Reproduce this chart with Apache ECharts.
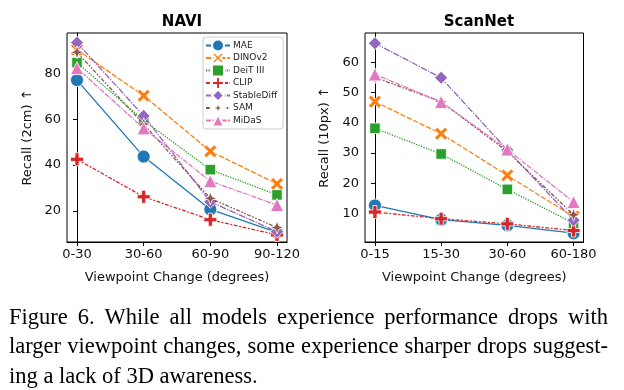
<!DOCTYPE html>
<html><head><meta charset="utf-8">
<script src="https://cdn.jsdelivr.net/npm/echarts@6/dist/echarts.min.js"></script>
<style>html,body{margin:0;padding:0;background:#fff}#c{width:624px;height:390px}</style>
</head><body><div id="c"></div>
<script>
// ---- data ----
const models = ['MAE', 'DINOv2', 'DeiT III', 'CLIP', 'StableDiff', 'SAM', 'MiDaS'];
const naviCats = ['0-30', '30-60', '60-90', '90-120'];
const scanCats = ['0-15', '15-30', '30-60', '60-180'];
const naviTicks = [20, 40, 60, 80];
const scanTicks = [10, 20, 30, 40, 50, 60];

const naviMAE        = [77.0, 43.7, 20.7, 10.7];
const naviDINOv2     = [90.2, 70.2, 46.0, 31.8];
const naviDeiT       = [84.6, 59.5, 38.0, 27.0];
const naviCLIP       = [42.5, 26.2, 16.2, 9.6];
const naviStableDiff = [93.3, 61.4, 24.0, 11.0];
const naviSAM        = [89.1, 57.8, 25.5, 12.8];
const naviMiDaS      = [82.2, 56.0, 33.0, 22.6];

const scanMAE        = [12.7, 8.0, 6.1, 3.5];
const scanDINOv2     = [47.0, 36.4, 22.6, 9.0];
const scanDeiT       = [38.2, 29.7, 18.0, 6.8];
const scanCLIP       = [10.5, 8.3, 6.6, 4.4];
const scanStableDiff = [66.3, 54.9, 31.0, 7.8];
const scanSAM        = [55.0, 47.0, 30.5, 9.6];
const scanMiDaS      = [56.0, 46.9, 31.2, 13.8];

const captionLines = [
  'Figure 6.  While all models experience performance drops with',
  'larger viewpoint changes, some experience sharper drops suggest-',
  'ing a lack of 3D awareness.'
];

// ---- styles ----
const colors = ['#1f77b4', '#ff7f0e', '#2ca02c', '#d62728', '#9467bd', '#8c564b', '#e377c2'];
const dashes = ['solid', [5.2, 1.9], [1.3, 1.3], [3.9, 1.6, 1.9, 1.6], [6.5, 1.3, 1.3, 1.3], [3.9, 1.6, 1.6, 1.6, 1.6, 1.6], [5.2, 1.3, 5.2, 1.3, 1.3, 1.3]];
const symbols = [
  'circle',
  'path://M0.2,0 L0.5,0.3 L0.8,0 L1,0.2 L0.7,0.5 L1,0.8 L0.8,1 L0.5,0.7 L0.2,1 L0,0.8 L0.3,0.5 L0,0.2 Z',
  'rect',
  'path://M0.34,0 H0.66 V0.34 H1 V0.66 H0.66 V1 H0.34 V0.66 H0 V0.34 H0.34 Z',
  'diamond',
  'path://M0.5,0 L0.635,0.365 L1,0.5 L0.635,0.635 L0.5,1 L0.365,0.635 L0,0.5 L0.365,0.365 Z',
  'triangle'
];
const sizes = [13, 13, 10.5, 13, 13, 13, 13];

const naviData = [naviMAE, naviDINOv2, naviDeiT, naviCLIP, naviStableDiff, naviSAM, naviMiDaS];
const scanData = [scanMAE, scanDINOv2, scanDeiT, scanCLIP, scanStableDiff, scanSAM, scanMiDaS];

const tickFont = {fontFamily: 'DejaVu Sans', fontSize: 13, color: '#111'};

function xAxisFor(cats, gi) {
  return {
    type: 'value', gridIndex: gi, min: -0.15, max: 3.15,
    axisLine: {show: true, lineStyle: {color: '#000', width: 1}},
    axisTick: {show: true, length: 4, customValues: [0, 1, 2, 3], lineStyle: {color: '#000'}},
    axisLabel: Object.assign({customValues: [0, 1, 2, 3], margin: 6,
      formatter: v => cats[Math.round(v)]}, tickFont),
    splitLine: {show: false},
    name: 'Viewpoint Change (degrees)', nameLocation: 'middle', nameGap: 29,
    nameTextStyle: {fontFamily: 'DejaVu Sans', fontSize: 13, color: '#111'}
  };
}
function yAxisFor(ticks, mn, mx, name, gi, gap) {
  return {
    type: 'value', gridIndex: gi, min: mn, max: mx,
    axisLine: {show: true, lineStyle: {color: '#000', width: 1}},
    axisTick: {show: true, length: 4, customValues: ticks, lineStyle: {color: '#000'}},
    axisLabel: Object.assign({customValues: ticks, margin: 6}, tickFont),
    splitLine: {show: false},
    name: name, nameLocation: 'middle', nameGap: gap,
    nameTextStyle: {fontFamily: 'DejaVu Sans', fontSize: 13, color: '#111'}
  };
}

const series = [];
[naviData, scanData].forEach((data, gi) => {
  data.forEach((vals, i) => {
    series.push({
      type: 'line', name: models[i], xAxisIndex: gi, yAxisIndex: gi,
      data: vals.map((v, k) => [k, v]),
      symbol: symbols[i], symbolSize: sizes[i], showAllSymbol: true,
      lineStyle: {color: colors[i], width: 1.3, type: dashes[i]},
      itemStyle: {color: colors[i], borderColor: '#fff', borderWidth: 0.8},
      emphasis: {disabled: true}, animation: false, z: 2 + i
    });
  });
});

// caption, justified lines
const capFont = '22.5px "Liberation Serif"';
const mctx = document.createElement('canvas').getContext('2d');
mctx.font = capFont;
const capLeft = 9, capRight = 608, capY = [318, 347.5, 377];
const graphic = [];
captionLines.forEach((line, li) => {
  if (li === captionLines.length - 1) {
    graphic.push({type: 'text', x: capLeft, y: capY[li],
      style: {text: line, font: capFont, fill: '#000', verticalAlign: 'middle'}});
    return;
  }
  const words = line.split(/\s+/);
  const total = words.reduce((s, w) => s + mctx.measureText(w).width, 0);
  const gap = (capRight - capLeft - total) / (words.length - 1);
  let x = capLeft;
  words.forEach(w => {
    graphic.push({type: 'text', x: x, y: capY[li], style: {text: w, font: capFont, fill: '#000', verticalAlign: 'middle'}});
    x += mctx.measureText(w).width + gap;
  });
});

const chart = echarts.init(document.getElementById('c'), null, {renderer: 'canvas'});
chart.setOption({
  animation: false,
  backgroundColor: '#fff',
  title: [
    {text: 'NAVI', left: 177, top: 10, textAlign: 'center',
     textStyle: {fontFamily: 'DejaVu Sans', fontSize: 15, fontWeight: 'bold', color: '#000'}},
    {text: 'ScanNet', left: 474, top: 10, textAlign: 'center',
     textStyle: {fontFamily: 'DejaVu Sans', fontSize: 15, fontWeight: 'bold', color: '#000'}}
  ],
  grid: [
    {left: 67, top: 33, width: 220, height: 209, show: true, borderColor: '#000', borderWidth: 1, containLabel: false},
    {left: 365, top: 33, width: 218.5, height: 209, show: true, borderColor: '#000', borderWidth: 1, containLabel: false}
  ],
  xAxis: [xAxisFor(naviCats, 0), xAxisFor(scanCats, 1)],
  yAxis: [
    yAxisFor(naviTicks, 6.5, 97.5, 'Recall (2cm) ↑', 0, 33),
    yAxisFor(scanTicks, 0.6, 69.7, 'Recall (10px) ↑', 1, 34)
  ],
  legend: {
    data: models, orient: 'vertical', left: 203, top: 37,
    itemWidth: 24, itemHeight: 15, itemGap: -1.5,
    padding: [1.5, 6, 1.5, 2],
    backgroundColor: '#fff', borderColor: '#ccc', borderWidth: 1, borderRadius: 3,
    textStyle: {fontFamily: 'DejaVu Sans', fontSize: 9, color: '#222', padding: [0, 0, 0, -2]},
    selectedMode: false
  },
  series: series,
  graphic: graphic
});
</script>
</body></html>
